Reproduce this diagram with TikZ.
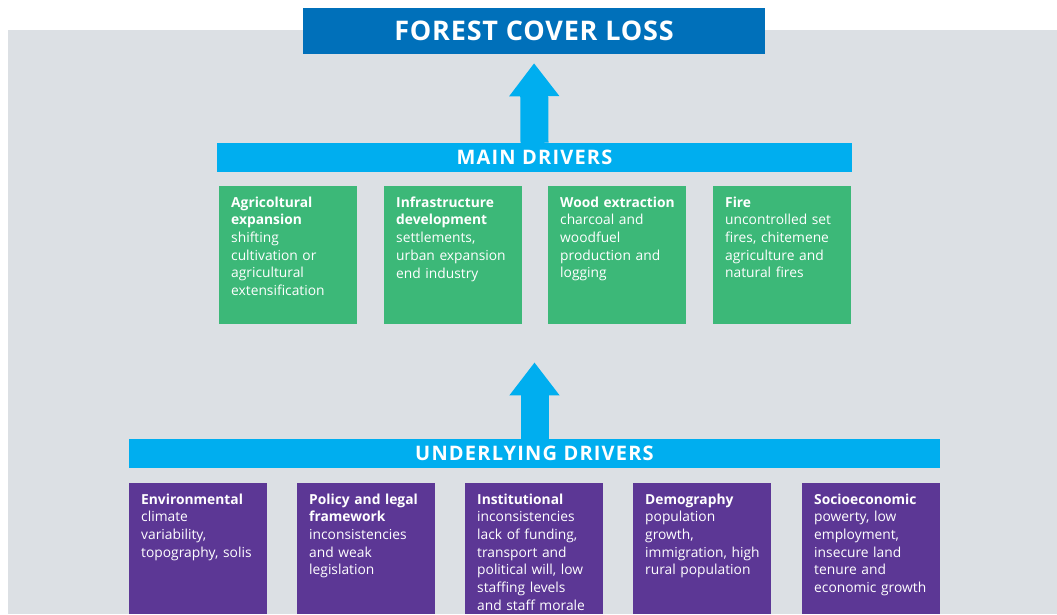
\documentclass[tikz,border=0pt]{standalone}
\usepackage{fontspec}
\setmainfont{Open Sans}
\usetikzlibrary{arrows.meta}

\definecolor{panelgray}{HTML}{DCE0E4}
\definecolor{titleblue}{HTML}{0070BA}
\definecolor{barcyan}{HTML}{00AEEF}
\definecolor{drivergreen}{HTML}{3CB878}
\definecolor{causepurple}{HTML}{5C3795}

\begin{document}
\begin{tikzpicture}[x=1pt,y=-1pt,
  titlebox/.style={fill=titleblue, text=white, minimum width=462pt, minimum height=46pt,
    inner sep=0pt, font=\fontsize{27}{30}\selectfont\bfseries\addfontfeature{LetterSpace=3}},
  bar/.style={fill=barcyan, text=white, minimum height=29pt, inner sep=0pt,
    font=\fontsize{20}{24}\selectfont\bfseries\addfontfeature{LetterSpace=6}},
  greenbox/.style={fill=drivergreen, minimum width=138pt, minimum height=138pt, inner sep=0pt, anchor=north west},
  purplebox/.style={fill=causepurple, minimum width=138pt, minimum height=131pt, inner sep=0pt, anchor=north west},
  boxtext/.style={text=white, anchor=north west, inner sep=0pt, text width=128pt, align=left,
    font=\fontsize{13.8}{17.7}\selectfont},
  bigarrow/.style={draw=barcyan, line width=28pt, -{Triangle[width=48pt,length=33pt]}}
]
\useasboundingbox (0,0) rectangle (1057,614);

% grey panel behind the diagram
\fill[panelgray] (8,30) rectangle (1057,614);

% title
\node[titlebox] (loss) at (534,31) {FOREST COVER LOSS};

% main drivers
\node[bar, minimum width=635pt] (main) at (534.5,157.5) {MAIN DRIVERS};
\node[greenbox] (g1) at (219,186) {};
\node[greenbox] (g2) at (384,186) {};
\node[greenbox] (g3) at (548,186) {};
\node[greenbox] (g4) at (713,186) {};
\node[boxtext] (t1) at ([shift={(12pt,-10.5pt)}]g1.north west) {\textbf{Agricoltural\\expansion}\\shifting\\cultivation or\\agricultural\\extensification};
\node[boxtext] (t2) at ([shift={(12pt,-10.5pt)}]g2.north west) {\textbf{Infrastructure\\development}\\settlements,\\urban expansion\\end industry};
\node[boxtext] (t3) at ([shift={(12pt,-10.5pt)}]g3.north west) {\textbf{Wood extraction}\\charcoal and\\woodfuel\\production and\\logging};
\node[boxtext] (t4) at ([shift={(12pt,-10.5pt)}]g4.north west) {\textbf{Fire}\\uncontrolled set\\fires, chitemene\\agriculture and\\natural fires};

% underlying drivers
\node[bar, minimum width=811pt] (under) at (534.5,453.5) {UNDERLYING DRIVERS};
\node[purplebox] (p1) at (129,483) {};
\node[purplebox] (p2) at (297,483) {};
\node[purplebox] (p3) at (465,483) {};
\node[purplebox] (p4) at (633,483) {};
\node[purplebox] (p5) at (802,483) {};
\node[boxtext] (u1) at ([shift={(12pt,-10.5pt)}]p1.north west) {\textbf{Environmental}\\climate\\variability,\\topography, solis};
\node[boxtext] (u2) at ([shift={(12pt,-10.5pt)}]p2.north west) {\textbf{Policy and legal\\framework}\\inconsistencies\\and weak\\legislation};
\node[boxtext] (u3) at ([shift={(12pt,-10.5pt)}]p3.north west) {\textbf{Institutional}\\inconsistencies\\lack of funding,\\transport and\\political will, low\\staffing levels\\and staff morale};
\node[boxtext] (u4) at ([shift={(12pt,-10.5pt)}]p4.north west) {\textbf{Demography}\\population\\growth,\\immigration, high\\rural population};
\node[boxtext] (u5) at ([shift={(12pt,-10.5pt)}]p5.north west) {\textbf{Socioeconomic}\\powerty, low\\employment,\\insecure land\\tenure and\\economic growth};

% upward arrows
\draw[bigarrow, shorten >=9pt] (main.north) -- (loss.south);
\draw[bigarrow, shorten >=38pt] (under.north) -- (main.south |- g1.south);
\end{tikzpicture}
\end{document}
